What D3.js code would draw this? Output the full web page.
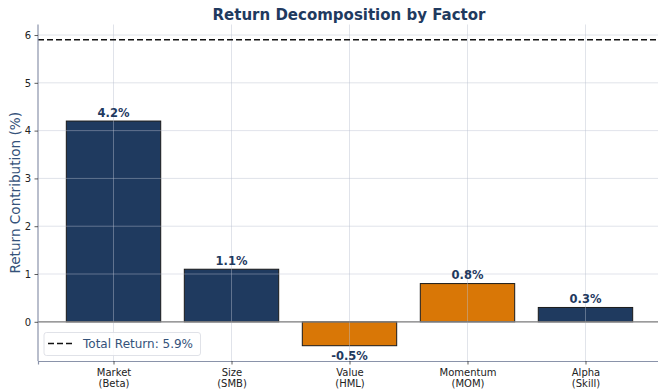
<!DOCTYPE html>
<html>
<head>
<meta charset="utf-8">
<script src="https://cdn.jsdelivr.net/npm/d3@7"></script>
<style>
  html, body { margin: 0; padding: 0; background: #fff; }
  svg { display: block; font-family: "DejaVu Sans", sans-serif; }
</style>
</head>
<body>
<svg id="chart" width="658" height="391"></svg>
<script>
// Factor return contributions (%)
const factors = ["Market\n(Beta)", "Size\n(SMB)", "Value\n(HML)", "Momentum\n(MOM)", "Alpha\n(Skill)"];
const contributions = [4.2, 1.1, -0.5, 0.8, 0.3];
const factorGroup = ["core", "core", "style", "style", "core"];
const totalReturn = 5.9;
const yTicks = [0, 1, 2, 3, 4, 5, 6];

const W = 658, H = 391;
const margin = { left: 38, right: -3, top: 24.5, bottom: 30 };
const plotW = W - margin.left - margin.right;
const plotH = H - margin.top - margin.bottom;

const navy = "#1f3a5f", orange = "#d97706";
const colorOf = g => g === "core" ? navy : orange;

const svg = d3.select("#chart");
const g = svg.append("g").attr("transform", `translate(${margin.left},${margin.top})`);

const x = d3.scaleLinear().domain([-0.64, 4.64]).range([0, plotW]);
const y = d3.scaleLinear().domain([-0.82, 6.22]).range([plotH, 0]);
const barW = 0.8;

// bars
g.selectAll("rect.bar").data(contributions).enter().append("rect")
  .attr("class", "bar")
  .attr("x", (d, i) => x(i - barW / 2))
  .attr("width", x(barW) - x(0))
  .attr("y", d => y(Math.max(0, d)))
  .attr("height", d => Math.abs(y(d) - y(0)))
  .attr("fill", (d, i) => colorOf(factorGroup[i]))
  .attr("stroke", "#1a1a1a")
  .attr("stroke-width", 1);

// grid
const grid = g.append("g").attr("stroke", "#b8bfcf").attr("stroke-opacity", 0.55).attr("stroke-width", 0.8);
grid.selectAll("line.gy").data(yTicks).enter().append("line")
  .attr("x1", 0).attr("x2", plotW).attr("y1", d => y(d)).attr("y2", d => y(d));
grid.selectAll("line.gx").data(d3.range(factors.length)).enter().append("line")
  .attr("y1", 0).attr("y2", plotH).attr("x1", d => x(d)).attr("x2", d => x(d));

// zero line
g.append("line").attr("x1", 0).attr("x2", plotW).attr("y1", y(0)).attr("y2", y(0))
  .attr("stroke", "#808080").attr("stroke-width", 1.3);

// total return reference line
g.append("line").attr("x1", 0).attr("x2", plotW).attr("y1", y(totalReturn)).attr("y2", y(totalReturn))
  .attr("stroke", "#111").attr("stroke-width", 1.6).attr("stroke-dasharray", "6,3");

// value labels
g.selectAll("text.val").data(contributions).enter().append("text")
  .attr("class", "val")
  .attr("x", (d, i) => x(i))
  .attr("y", d => d >= 0 ? y(d) - 4.5 : y(d) + 14)
  .attr("text-anchor", "middle")
  .attr("font-weight", "bold")
  .attr("font-size", 11.5)
  .attr("fill", navy)
  .text(d => d.toFixed(1) + "%");

// axes
const yAxis = g.append("g").call(d3.axisLeft(y).tickValues(yTicks).tickSize(3.5).tickPadding(3.5).tickFormat(d3.format("d")));
const xAxis = g.append("g").attr("transform", `translate(0,${plotH})`)
  .call(d3.axisBottom(x).tickValues(d3.range(factors.length)).tickSize(3.5).tickPadding(3.5).tickFormat(""));
[yAxis, xAxis].forEach(a => {
  a.select(".domain").attr("stroke", "#8a93aa").attr("stroke-width", 1.2);
  a.selectAll(".tick line").attr("stroke", "#333").attr("stroke-width", 0.8);
  a.selectAll(".tick text").attr("fill", "#222").attr("font-size", 10).attr("font-family", "DejaVu Sans");
});
yAxis.select(".domain").attr("d", `M0,0V${plotH}`);

// multi-line x tick labels
xAxis.selectAll(".tick").each(function (d) {
  const t = d3.select(this).append("text").attr("fill", "#222").attr("font-size", 10)
    .attr("text-anchor", "middle").attr("font-family", "DejaVu Sans");
  factors[d].split("\n").forEach((line, k) => {
    t.append("tspan").attr("x", 0).attr("y", 14.5 + k * 11.5).text(line);
  });
});

// title
svg.append("text").attr("x", margin.left + plotW / 2 - 0.5).attr("y", 19.5)
  .attr("text-anchor", "middle").attr("font-weight", "bold").attr("font-size", 15)
  .attr("fill", navy).text("Return Decomposition by Factor");

// y label
svg.append("text").attr("transform", `translate(19.5,${margin.top + plotH / 2}) rotate(-90)`)
  .attr("text-anchor", "middle").attr("font-size", 13.6).attr("fill", "#34527a")
  .text("Return Contribution (%)");

// legend
const lg = g.append("g").attr("transform", `translate(6,${plotH - 28.5})`);
lg.append("rect").attr("width", 156.5).attr("height", 23).attr("rx", 2.5)
  .attr("fill", "#fff").attr("fill-opacity", 0.85).attr("stroke", "#d8dbe2").attr("stroke-width", 0.8);
lg.append("line").attr("x1", 4).attr("x2", 29).attr("y1", 11).attr("y2", 11)
  .attr("stroke", "#111").attr("stroke-width", 1.6).attr("stroke-dasharray", "6,3");
lg.append("text").attr("x", 39).attr("y", 15.5).attr("font-size", 12).attr("fill", "#34527a")
  .text(`Total Return: ${totalReturn}%`);
</script>
</body>
</html>
